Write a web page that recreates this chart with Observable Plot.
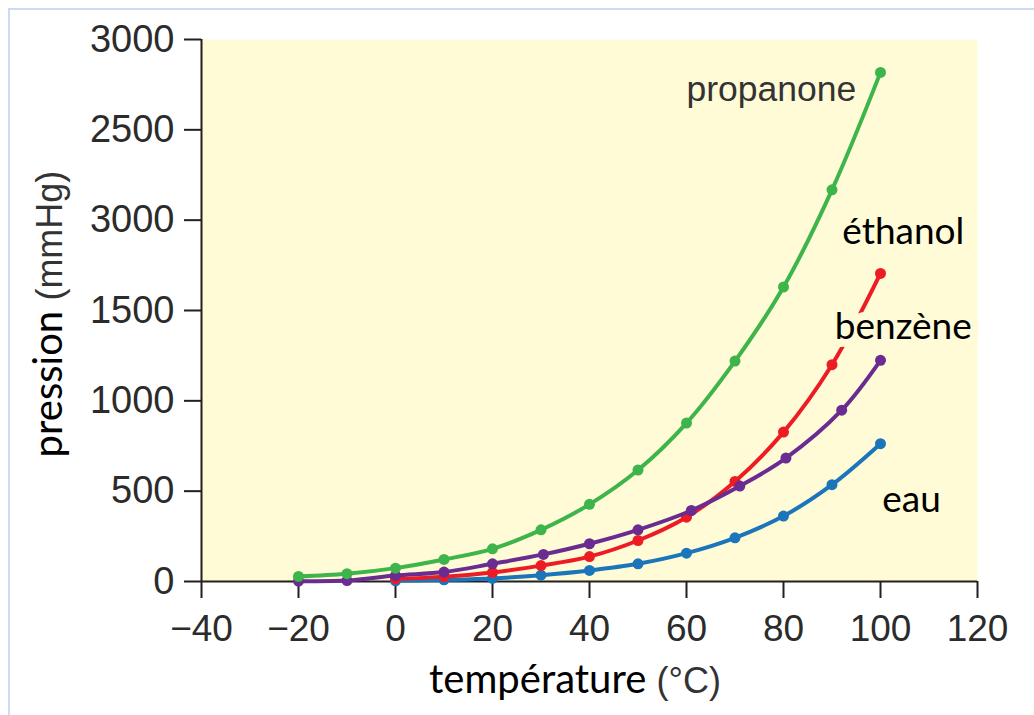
<!DOCTYPE html>
<html>
<head>
<meta charset="utf-8">
<script src="https://cdn.jsdelivr.net/npm/d3@7"></script>
<script src="https://cdn.jsdelivr.net/npm/@observablehq/plot@0.6"></script>
<style>
  html, body { margin: 0; padding: 0; background: #fff; }
  #frame { position: absolute; left: 8px; top: 8px; width: 1026px; height: 707px;
           border-top: 2px solid #c9dcf1; border-left: 2px solid #c9dcf1; box-sizing: border-box; }
  #chart { position: absolute; left: 0; top: 0; }
</style>
</head>
<body>
<div id="frame"></div>
<div id="chart"></div>
<script>
// ---- data ----
const temps = [-20, -10, 0, 10, 20, 30, 40, 50, 60, 70, 80, 90, 100];
const propanone = [28, 43, 74, 122, 181, 286, 427, 617, 877, 1220, 1630, 2168, 2818];

const tempsEthanol = [0, 10, 20, 30, 40, 50, 60, 70, 80, 90, 100];
const ethanol = [14, 27, 50, 88, 138, 227, 356, 554, 827, 1200, 1705];

const tempsBenzene = [-20, -10, 0, 10, 20, 30.5, 40, 50, 61, 71, 80.5, 92, 100];
const benzene = [2, 5, 33, 52, 98, 150, 209, 286, 393, 528, 683, 948, 1224];

const tempsEau = [0, 10, 20, 30, 40, 50, 60, 70, 80, 90, 100];
const eau = [4, 9, 17, 35, 61, 98, 157, 242, 362, 536, 763];

const xTicks = [-40, -20, 0, 20, 40, 60, 80, 100, 120];
const xTickLabels = ["\u221240", "\u221220", "0", "20", "40", "60", "80", "100", "120"];
const yTicks = [0, 500, 1000, 1500, 2000, 2500, 3000];
const yTickLabels = ["0", "500", "1000", "1500", "3000", "2500", "3000"];

const seriesNames = ["eau", "éthanol", "benzène", "propanone"];
const seriesColors = ["#1b75bb", "#ed1c24", "#6a2c91", "#3eb54a"];

// label anchors (data coordinates)
const labelNames = ["propanone", "éthanol", "benzène", "eau"];
const labelX = [77.5, 104.7, 104.7, 106.4];
const labelY = [2720, 1933, 1407, 449];
const labelFont = ["Liberation Sans", "Lato", "Lato", "Lato"];
const labelColor = ["#333333", "#000000", "#000000", "#000000"];

// ---- build table ----
function rows(name, xs, ys) { return xs.map((t, i) => ({series: name, t, p: ys[i]})); }
const data = [
  ...rows("eau", tempsEau, eau),
  ...rows("éthanol", tempsEthanol, ethanol),
  ...rows("benzène", tempsBenzene, benzene),
  ...rows("propanone", temps, propanone)
];
const labels = labelNames.map((n, i) => ({n, x: labelX[i], y: labelY[i], f: labelFont[i], c: labelColor[i]}));

const bg = "#fffbd7";
const axisColor = "#231f20";
const tickFont = "Liberation Sans";

const seriesMarks = seriesNames.flatMap((s, i) => {
  const d = data.filter(r => r.series === s);
  return [
    Plot.line(d, {x: "t", y: "p", stroke: seriesColors[i], strokeWidth: 4, curve: "catmull-rom"}),
    Plot.dot(d, {x: "t", y: "p", fill: seriesColors[i], r: 5.5})
  ];
});

const labelMarks = labels.map(l =>
  Plot.text([l], {x: "x", y: "y", text: "n", fontFamily: l.f, fontSize: l.f === "Lato" ? 37 : 35.5,
    fill: l.c, stroke: bg, strokeWidth: 16, paintOrder: "stroke", textAnchor: "middle"})
);

const chart = Plot.plot({
  width: 1034,
  height: 715,
  marginLeft: 201,
  marginRight: 57,
  marginTop: 39,
  marginBottom: 134,
  style: {background: "transparent", overflow: "visible"},
  x: {domain: [-40, 120]},
  y: {domain: [0, 3000]},
  marks: [
    Plot.frame({fill: bg, stroke: null}),
    Plot.axisX({ticks: xTicks, tickFormat: (d) => xTickLabels[xTicks.indexOf(d)], tickSize: 17, tickPadding: 16,
      stroke: axisColor, strokeWidth: 2, fontSize: 37, fontFamily: tickFont, fill: "#2b2b2b", label: null}),
    Plot.axisY({ticks: yTicks, tickFormat: (d) => yTickLabels[yTicks.indexOf(d)], tickSize: 17, tickPadding: 10,
      stroke: axisColor, strokeWidth: 2, fontSize: 38, fontFamily: tickFont, fill: "#2b2b2b", label: null}),
    Plot.ruleX([-40], {y1: 0, y2: 3000, stroke: axisColor, strokeWidth: 2}),
    Plot.ruleY([0], {x1: -40, x2: 120, stroke: axisColor, strokeWidth: 2}),
    ...seriesMarks,
    ...labelMarks
  ]
});

document.getElementById("chart").appendChild(chart);

// axis titles with mixed fonts
const svg = d3.select(chart);
const yt = svg.append("text")
  .attr("transform", "translate(62,314) rotate(-90)")
  .attr("text-anchor", "middle");
yt.append("tspan").attr("font-family", "Lato").attr("font-size", 40).attr("fill", "#000").text("pression ");
yt.append("tspan").attr("font-family", "Liberation Sans").attr("font-size", 36).attr("fill", "#333").text("(mmHg)");

const xt = svg.append("text")
  .attr("transform", "translate(575,693)")
  .attr("text-anchor", "middle");
xt.append("tspan").attr("font-family", "Lato").attr("font-size", 40).attr("fill", "#000").text("température ");
xt.append("tspan").attr("font-family", "Liberation Sans").attr("font-size", 36).attr("fill", "#333").text("(°C)");
</script>
</body>
</html>
